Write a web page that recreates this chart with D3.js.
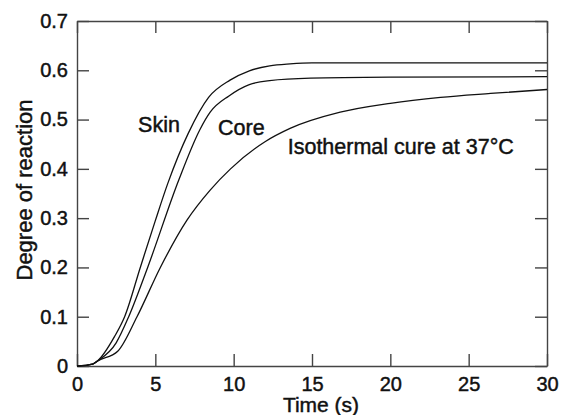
<!DOCTYPE html>
<html>
<head>
<meta charset="utf-8">
<script src="https://cdn.jsdelivr.net/npm/d3@7"></script>
<style>
  body { margin: 0; background: #fff; }
  text { font-family: "Liberation Sans", Arial, sans-serif; fill: #111; stroke: #111; stroke-width: 0.45px; }
</style>
</head>
<body>
<div class="chart"></div>
<script>
let w = 567;
let h = 415;

// time (s) and degree of reaction for each curve
const skinTime = [0, 1, 1.3, 2.4, 3.04, 4.04, 5, 5.79, 7.1, 8.4, 9.77, 11, 12.3, 13.6, 15, 30];
const skinDeg = [0, 0.004, 0.01, 0.06, 0.1, 0.2, 0.295, 0.37, 0.472, 0.545, 0.58, 0.599, 0.609, 0.613, 0.615, 0.615];

const coreTime = [0, 1, 1.3, 2.5, 3.3, 4.51, 6.49, 7.85, 8.5, 9.7, 11, 12.3, 14.9, 20, 30];
const coreDeg = [0, 0.004, 0.01, 0.047, 0.1, 0.2, 0.377, 0.48, 0.515, 0.548, 0.571, 0.579, 0.584, 0.586, 0.587];

const isoTime = [0, 1, 1.3, 2.6, 3.83, 5.32, 7.02, 8.5, 9.8, 12, 13.6, 16.8, 20, 23.2, 26.4, 30];
const isoDeg = [0, 0.004, 0.01, 0.03, 0.1, 0.2, 0.296, 0.357, 0.40, 0.455, 0.482, 0.515, 0.533, 0.545, 0.553, 0.561];

const xTicks = [0, 5, 10, 15, 20, 25, 30];
const yTicks = [0, 0.1, 0.2, 0.3, 0.4, 0.5, 0.6, 0.7];

// curve labels: text, anchor time, anchor degree
const labels = [
	{"text": "Skin", "t": 3.9, "v": 0.474},
	{"text": "Core", "t": 9.0, "v": 0.468},
	{"text": "Isothermal cure at 37°C", "t": 13.45, "v": 0.43}
];

const m = {left: 77, right: 20, top: 21, bottom: 49};

const x = d3.scaleLinear().domain([0, 30]).range([m.left, w - m.right]);
const y = d3.scaleLinear().domain([0, 0.7]).range([h - m.bottom, m.top]);

let svg = d3.select('.chart')
	.append('svg')
	.attr('width', w)
	.attr('height', h);

const yFmt = d => d === 0 ? "0" : d.toFixed(1);

// axes, ticks pointing inward on all four sides
svg.append('g')
	.attr('transform', `translate(0,${y(0)})`)
	.call(d3.axisBottom(x).tickValues(xTicks).tickSizeInner(-12).tickSizeOuter(0).tickPadding(11))
	.call(g => g.selectAll('text').attr('font-size', 20).attr('font-family', null));

svg.append('g')
	.attr('transform', `translate(0,${y(0.7)})`)
	.call(d3.axisTop(x).tickValues(xTicks).tickSizeInner(-12).tickSizeOuter(0).tickFormat(''));

svg.append('g')
	.attr('transform', `translate(${x(0)},0)`)
	.call(d3.axisLeft(y).tickValues(yTicks).tickSizeInner(-12).tickSizeOuter(0).tickPadding(9).tickFormat(yFmt))
	.call(g => g.selectAll('text').attr('font-size', 20).attr('font-family', null));

svg.append('g')
	.attr('transform', `translate(${x(30)},0)`)
	.call(d3.axisRight(y).tickValues(yTicks).tickSizeInner(-12).tickSizeOuter(0).tickFormat(''));

svg.selectAll('.domain, .tick line')
	.attr('stroke', '#444')
	.attr('stroke-width', 1.4);

// curves
const series = [
	{"t": skinTime, "v": skinDeg},
	{"t": coreTime, "v": coreDeg},
	{"t": isoTime, "v": isoDeg}
];

const lineFun = d3.line()
	.x(d => x(d[0]))
	.y(d => y(d[1]))
	.curve(d3.curveMonotoneX);

svg.selectAll('path.curve')
	.data(series)
	.enter()
	.append('path')
	.attr('class', 'curve')
	.attr('d', s => lineFun(s.t.map((t, i) => [t, s.v[i]])))
	.attr('stroke', '#111')
	.attr('stroke-width', 1.3)
	.attr('fill', 'none');

// curve labels
svg.selectAll('text.lab')
	.data(labels)
	.enter()
	.append('text')
	.attr('class', 'lab')
	.attr('x', d => x(d.t))
	.attr('y', d => y(d.v))
	.attr('font-size', 21.5)
	.text(d => d.text);

// axis titles
svg.append('text')
	.attr('x', 321)
	.attr('y', 412)
	.attr('text-anchor', 'middle')
	.attr('font-size', 21)
	.text('Time (s)');

svg.append('text')
	.attr('transform', 'translate(32,190) rotate(-90)')
	.attr('text-anchor', 'middle')
	.attr('font-size', 22)
	.text('Degree of reaction');
</script>
</body>
</html>
